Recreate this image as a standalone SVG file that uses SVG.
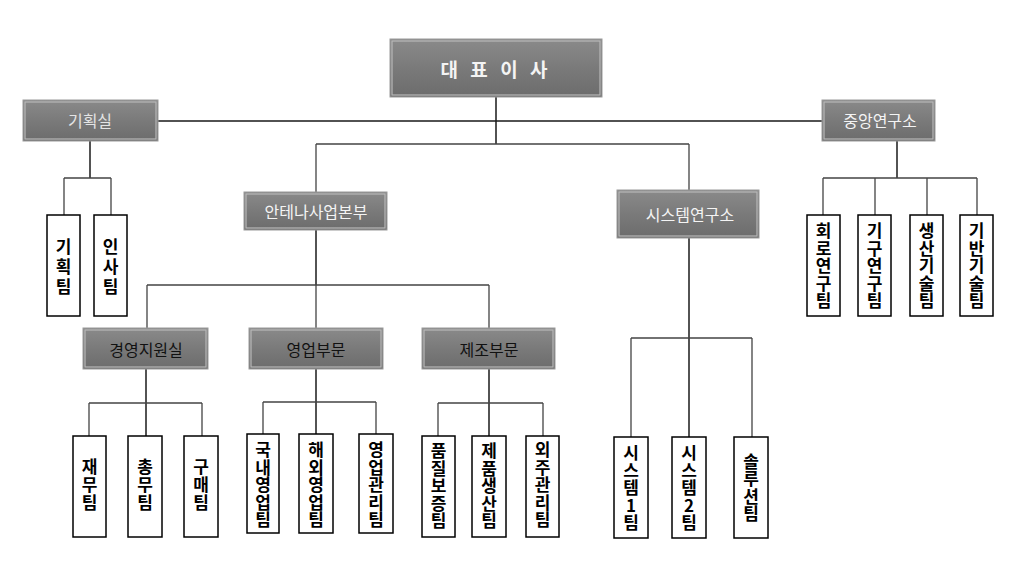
<svg xmlns="http://www.w3.org/2000/svg" width="1019" height="567" viewBox="0 0 1019 567">
<style>
.hb{fill:url(#g);stroke:#9a9a9a;stroke-width:1}
.hl{fill:none;stroke:#b8b8b8;stroke-width:1.2}
.ht{font-family:"Noto Sans CJK KR",sans-serif;font-size:16px;text-anchor:middle;dominant-baseline:central}
.w{fill:#f4f4f4}
.d{fill:#111}
.lb{fill:#fff;stroke:#000;stroke-width:1.5}
.lt{font-family:"Noto Sans CJK KR",sans-serif;font-size:17px;font-weight:bold;text-anchor:middle;fill:#000;writing-mode:vertical-rl;text-orientation:upright}
.s3{letter-spacing:3px}
.s1{letter-spacing:1px}
.s05{letter-spacing:0.5px}
.c{fill:none;stroke:#1a1a1a;stroke-width:1.5}
.c2{fill:none;stroke:#444;stroke-width:1.3}
</style>
<defs>
<linearGradient id="g" x1="0" y1="0" x2="0" y2="1">
<stop offset="0" stop-color="#8a8a8a"/>
<stop offset="0.5" stop-color="#7a7a7a"/>
<stop offset="1" stop-color="#6c6c6c"/>
</linearGradient>
</defs>
<rect width="1019" height="567" fill="#fff"/>
<g id="connectors">
<path class="c" d="M496 97V144M158 121H822"/>
<path class="c2" d="M316 144H689M316 144V192M689 144V190"/>
<path class="c" d="M90 141V178"/>
<path class="c2" d="M64 178H111M64 178V215M111 178V215"/>
<path class="c" d="M316 230V285"/>
<path class="c2" d="M147 285H489M147 285V328M316 285V328M489 285V328"/>
<path class="c" d="M146 369V436"/>
<path class="c2" d="M89 403H202M89 403V436M202 403V436"/>
<path class="c" d="M316 369V434"/>
<path class="c2" d="M263 402H376M263 402V434M376 402V434"/>
<path class="c" d="M489 369V436"/>
<path class="c2" d="M438 403H543M438 403V436M543 403V436"/>
<path class="c" d="M689 238V437"/>
<path class="c2" d="M631 338H752M631 338V437M752 338V437"/>
<path class="c" d="M897 141V178"/>
<path class="c2" d="M823 178H977M823 178V215M875 178V215M927 178V215M977 178V215"/>
</g>
<g id="n-ceo">
<rect class="hb" x="390" y="39" width="212" height="58"/>
<rect class="hl" x="392" y="41" width="208" height="54"/>
<text class="ht w" x="496" y="68" style="font-size:19px;font-weight:bold" letter-spacing="4">대 표 이 사</text>
</g>
<g id="n-plan">
<rect class="hb" x="23" y="100" width="135" height="41"/>
<rect class="hl" x="25" y="102" width="131" height="37"/>
<text class="ht w" x="90" y="120" style="fill:#e4e4e4">기획실</text>
</g>
<g id="n-central">
<rect class="hb" x="822" y="100" width="113" height="41"/>
<rect class="hl" x="824" y="102" width="109" height="37"/>
<text class="ht w" x="880" y="120">중앙연구소</text>
</g>
<g id="n-antenna">
<rect class="hb" x="244" y="192" width="143" height="38"/>
<rect class="hl" x="246" y="194" width="139" height="34"/>
<text class="ht w" x="316" y="211">안테나사업본부</text>
</g>
<g id="n-sys">
<rect class="hb" x="617" y="190" width="142" height="48"/>
<rect class="hl" x="619" y="192" width="138" height="44"/>
<text class="ht w" x="690" y="214">시스템연구소</text>
</g>
<g id="n-mgmt">
<rect class="hb" x="83" y="328" width="125" height="41"/>
<rect class="hl" x="85" y="330" width="121" height="37"/>
<text class="ht d" x="146" y="349">경영지원실</text>
</g>
<g id="n-sales">
<rect class="hb" x="249" y="328" width="134" height="41"/>
<rect class="hl" x="251" y="330" width="130" height="37"/>
<text class="ht d" x="316" y="349">영업부문</text>
</g>
<g id="n-mfg">
<rect class="hb" x="422" y="328" width="133" height="41"/>
<rect class="hl" x="424" y="330" width="129" height="37"/>
<text class="ht d" x="489" y="349">제조부문</text>
</g>
<g id="n-planteam">
<rect class="lb" x="47" y="215" width="33" height="101"/>
<text class="lt s3" x="63.5" y="268">기획팀</text>
</g>
<g id="n-hr">
<rect class="lb" x="94" y="215" width="33" height="101"/>
<text class="lt s3" x="110.5" y="268">인사팀</text>
</g>
<g id="n-fin">
<rect class="lb" x="73" y="436" width="33" height="101"/>
<text class="lt s1" x="89.5" y="485">재무팀</text>
</g>
<g id="n-gen">
<rect class="lb" x="128" y="436" width="34" height="101"/>
<text class="lt s1" x="145" y="485">총무팀</text>
</g>
<g id="n-buy">
<rect class="lb" x="184" y="436" width="34" height="101"/>
<text class="lt s1" x="201" y="485">구매팀</text>
</g>
<g id="n-dom">
<rect class="lb" x="247" y="434" width="32" height="99"/>
<text class="lt s05" x="263" y="485">국내영업팀</text>
</g>
<g id="n-ovs">
<rect class="lb" x="299" y="434" width="34" height="99"/>
<text class="lt s05" x="316" y="485">해외영업팀</text>
</g>
<g id="n-salesmgmt">
<rect class="lb" x="359" y="434" width="34" height="99"/>
<text class="lt s05" x="376" y="485">영업관리팀</text>
</g>
<g id="n-qa">
<rect class="lb" x="422" y="436" width="33" height="101"/>
<text class="lt s05" x="438.5" y="486">품질보증팀</text>
</g>
<g id="n-prod">
<rect class="lb" x="472" y="436" width="34" height="101"/>
<text class="lt s05" x="489" y="486">제품생산팀</text>
</g>
<g id="n-out">
<rect class="lb" x="526" y="436" width="33" height="101"/>
<text class="lt s05" x="542.5" y="485">외주관리팀</text>
</g>
<g id="n-sys1">
<rect class="lb" x="614" y="437" width="34" height="101"/>
<text class="lt s05" x="631" y="488">시스템1팀</text>
</g>
<g id="n-sys2">
<rect class="lb" x="672" y="437" width="34" height="101"/>
<text class="lt s05" x="689" y="488">시스템2팀</text>
</g>
<g id="n-sol">
<rect class="lb" x="734" y="437" width="34" height="101"/>
<text class="lt s05" x="751" y="488">솔루션팀</text>
</g>
<g id="n-circ">
<rect class="lb" x="807" y="215" width="33" height="101"/>
<text class="lt s05" x="823.5" y="266">회로연구팀</text>
</g>
<g id="n-mech">
<rect class="lb" x="858" y="215" width="33" height="101"/>
<text class="lt s05" x="874.5" y="266">기구연구팀</text>
</g>
<g id="n-ptech">
<rect class="lb" x="910" y="215" width="33" height="101"/>
<text class="lt s05" x="926.5" y="266">생산기술팀</text>
</g>
<g id="n-btech">
<rect class="lb" x="960" y="215" width="33" height="101"/>
<text class="lt s05" x="976.5" y="266">기반기술팀</text>
</g>
</svg>
